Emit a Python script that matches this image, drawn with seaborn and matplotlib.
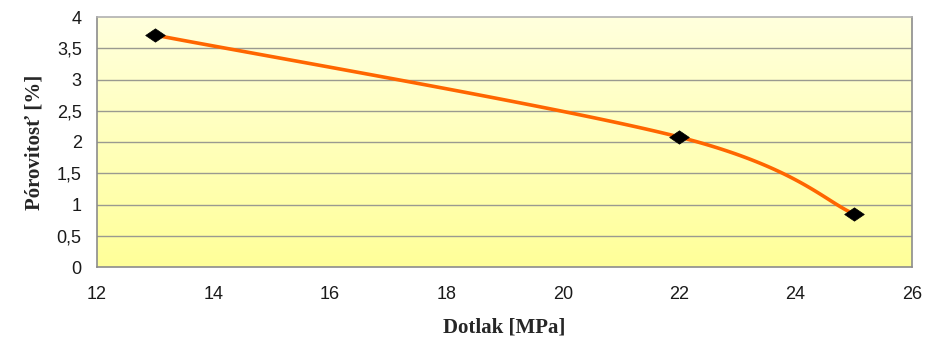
import numpy as np
import pandas as pd
import matplotlib
matplotlib.use("Agg")
import matplotlib.pyplot as plt
from matplotlib.path import Path
import seaborn as sns

# Measured points
pressure = [13, 22, 25]          # Dotlak [MPa]
porosity = [3.71, 2.08, 0.85]    # Pórovitosť [%]

x_ticks = [12, 14, 16, 18, 20, 22, 24, 26]
y_ticks = [0, 0.5, 1, 1.5, 2, 2.5, 3, 3.5, 4]
y_tick_labels = ["0", "0,5", "1", "1,5", "2", "2,5", "3", "3,5", "4"]

x_label = "Dotlak [MPa]"
y_label = "Pórovitosť [%]"

XLIM = (12, 26)
YLIM = (0, 4)


def smooth_curve(xs, ys, n=60):
    """Cubic Bezier smoothing through the points (spreadsheet-style smoothed line)."""
    sx = XLIM[1] - XLIM[0]
    sy = YLIM[1] - YLIM[0]
    # work in normalized (screen-like) coordinates
    p = np.column_stack([(np.asarray(xs) - XLIM[0]) / sx * 815,
                         (np.asarray(ys) - YLIM[0]) / sy * 250])
    pts = np.vstack([p[0], p, p[-1]])
    out = []
    for i in range(1, len(pts) - 2):
        p0, p1, p2, p3 = pts[i - 1], pts[i], pts[i + 1], pts[i + 2]
        c1 = p1 + (p2 - p0) / 6.0
        c2 = p2 - (p3 - p1) / 6.0
        t = np.linspace(0, 1, n)[:, None]
        seg = ((1 - t) ** 3) * p1 + 3 * ((1 - t) ** 2) * t * c1 \
            + 3 * (1 - t) * t ** 2 * c2 + t ** 3 * p2
        out.append(seg if i == 1 else seg[1:])
    seg = np.vstack(out)
    return seg[:, 0] / 815 * sx + XLIM[0], seg[:, 1] / 250 * sy + YLIM[0]


sns.set_style("white")
plt.rcParams["font.family"] = ["Liberation Sans", "DejaVu Sans"]

fig = plt.figure(figsize=(9.25, 3.38), dpi=100)
ax = fig.add_axes([97 / 925, 1 - 267 / 338, 815 / 925, 250 / 338])

# Pale-to-yellow vertical gradient background
grad = np.linspace(0, 1, 256)[:, None]
cmap = matplotlib.colors.LinearSegmentedColormap.from_list(
    "bg", ["#FFFF99", "#FFFFDD"])
ax.imshow(grad, extent=[XLIM[0], XLIM[1], YLIM[0], YLIM[1]], origin="lower",
          aspect="auto", cmap=cmap, zorder=0)

# Horizontal gridlines
for yv in y_ticks[1:-1]:
    ax.axhline(yv, color="#9a9a90", lw=1.0, zorder=1)

cx, cy = smooth_curve(pressure, porosity)
curve = pd.DataFrame({"x": cx, "y": cy})
sns.lineplot(data=curve, x="x", y="y", ax=ax, color="#FF6600", lw=2.6,
             sort=False, estimator=None, zorder=3)

diamond = Path([(-1, 0), (0, 0.68), (1, 0), (0, -0.68), (-1, 0)],
               [Path.MOVETO, Path.LINETO, Path.LINETO, Path.LINETO, Path.CLOSEPOLY])
pts = pd.DataFrame({"x": pressure, "y": porosity})
sns.scatterplot(data=pts, x="x", y="y", ax=ax, marker=diamond, s=200,
                color="black", edgecolor="black", linewidth=0.5, zorder=4)

ax.set_xlim(*XLIM)
ax.set_ylim(*YLIM)
ax.set_xticks(x_ticks)
ax.set_yticks(y_ticks)
ax.set_yticklabels(y_tick_labels)
ax.tick_params(axis="both", direction="out", length=5, width=1, color="#808080",
               labelsize=13, labelcolor="#1a1a1a", pad=6)
ax.tick_params(axis="x", pad=9)

for side, sp in ax.spines.items():
    sp.set_color("#8c8c8c")
    sp.set_linewidth(1.2)
ax.spines["top"].set_color("#b0b0b0")

ax.set_xlabel(x_label, family=["Liberation Serif", "DejaVu Serif"],
              fontweight="bold", fontsize=15, labelpad=10)
ax.set_ylabel(y_label, family=["Liberation Serif", "DejaVu Serif"],
              fontweight="bold", fontsize=15, labelpad=9)

fig.savefig("out.png", dpi=100)
